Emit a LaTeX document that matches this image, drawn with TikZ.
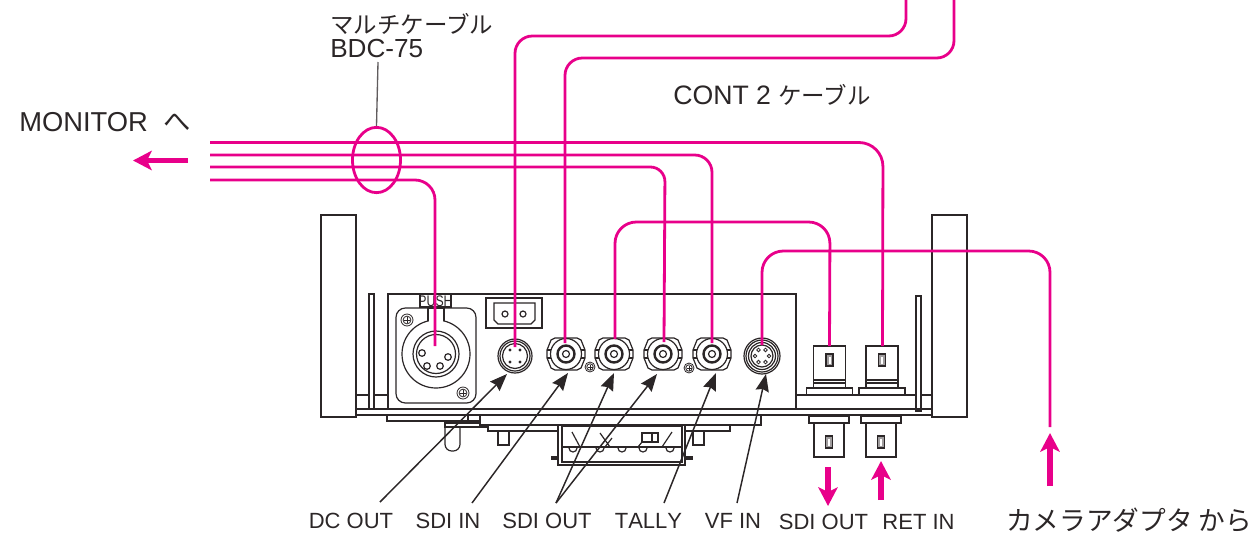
\documentclass[tikz,border=0pt]{standalone}
\usepackage{fontspec}
\setmainfont{Liberation Sans}
\newfontfamily\jpfont{Noto Sans CJK JP}
\usetikzlibrary{arrows.meta,shapes.geometric}
\definecolor{wirepink}{HTML}{E8008A}
\definecolor{ink}{HTML}{2B2627}
\tikzset{
  x=0.75pt,y=-0.75pt,
  part/.style={draw=ink,line width=0.9pt,fill=white},
  thin part/.style={draw=ink,line width=0.6pt,fill=white},
  partline/.style={draw=ink,line width=0.9pt},
  wire/.style={draw=wirepink,line width=2.1pt,rounded corners=13pt},
  bigarrow/.style={draw=wirepink,line width=4pt,-{Stealth[length=14pt,width=14.5pt,inset=3.5pt]}},
  pointer/.style={draw=ink,line width=1.1pt,-{Stealth[length=13pt,width=10pt,inset=1.5pt]}},
  leader/.style={draw=ink!75,line width=1pt},
  labeltext/.style={font=\fontsize{16.5pt}{18pt}\selectfont,text=ink,inner sep=0pt,anchor=center},
  bigtext/.style={font=\fontsize{20pt}{22pt}\selectfont,text=ink,inner sep=0pt,anchor=west},
}
\newcommand{\smalljp}{\jpfont\fontsize{17.6pt}{20pt}\selectfont}
\newcommand{\screw}[3]{%
  \draw[thin part] (#1,#2) circle[radius=#3];
  \draw[thin part] (#1,#2) circle[radius=#3*0.65];
  \draw[partline,line width=0.6pt] (#1-#3*0.5,#2) -- (#1+#3*0.5,#2) (#1,#2-#3*0.5) -- (#1,#2+#3*0.5);
}
\newcommand{\bncsock}[2]{%
  \draw[part] (#1-19,#2-4) -- (#1-15,#2-14) -- (#1-11,#2-16) -- (#1+11,#2-16) -- (#1+15,#2-14) -- (#1+19,#2-4)
     -- (#1+19,#2+4) -- (#1+15,#2+14) -- (#1+11,#2+16) -- (#1-11,#2+16) -- (#1-15,#2+14) -- (#1-19,#2+4) -- cycle;
  \draw[partline] (#1-19,#2-4) -- (#1-15,#2-4) (#1-19,#2+4) -- (#1-15,#2+4) (#1+19,#2-4) -- (#1+15,#2-4) (#1+19,#2+4) -- (#1+15,#2+4);
  \draw[part] (#1,#2) circle[radius=15.5];
  \draw[part,line width=1.8pt] (#1,#2) circle[radius=8.5];
  \draw[partline] (#1,#2) circle[radius=3.5];
}
\newcommand{\bnctop}[2]{%
  \draw[part] (#1-16,#2) rectangle (#1+16,#2+34);
  \draw[partline] (#1-16,#2+34) -- (#1+16,#2+34) (#1-16,#2+37) -- (#1+16,#2+37);
  \draw[part] (#1-23,#2+42) rectangle (#1+23,#2+49);
  \draw[partline] (#1-16,#2+34) -- (#1-16,#2+42) (#1+16,#2+34) -- (#1+16,#2+42);
  \draw[part,fill=ink!45] (#1-3.5,#2+8) rectangle (#1+3.5,#2+20);
  \fill[white] (#1-1,#2+10.5) rectangle (#1+1,#2+17.5);
}
\newcommand{\bncbot}[2]{%
  \draw[part] (#1-20,#2) rectangle (#1+20,#2+7);
  \draw[part] (#1-15,#2+7) rectangle (#1+15,#2+41);
  \draw[part,fill=ink!45] (#1-3.5,#2+20) rectangle (#1+3.5,#2+32);
  \fill[white] (#1-1,#2+22.5) rectangle (#1+1,#2+29.5);
}
\begin{document}
\begin{tikzpicture}
\useasboundingbox (0,0) rectangle (1256,536);
% --- chassis ---
\draw[part] (321,215) rectangle (356,417);
\draw[part] (932,215) rectangle (967,417);
\draw[partline] (356,395) -- (388,395) (796,395) -- (932,395);
\draw[part] (369,294) rectangle (374,409);
\draw[part] (916,296) rectangle (921,411);
\draw[part] (388,294) rectangle (796,409);
\draw[partline] (356,409) -- (932,409) (356,415) -- (932,415);
\draw[part,rounded corners=5pt] (445,421) -- (445,451) -- (460,451) -- (460,421) -- cycle;
\draw[part] (387,415) rectangle (468,421);
\draw[part] (445,423) rectangle (488,427);
\draw[part] (468,415) rectangle (480,421);
\draw[part] (498,431) rectangle (509,445);
\draw[part] (693,431) rectangle (704,445);
\draw[part] (480,415) rectangle (761,425);
\draw[part] (488,425) rectangle (730,431);
% underside box
\draw[part] (552,457) rectangle (692,459);
\draw[part] (558,425) rectangle (685,465);
\draw[part] (562,425) rectangle (682,462);
\draw[partline,line width=1.3pt] (562,426) -- (682,426);
\draw[partline] (562,447) -- (682,447);
\draw[partline] (572,432) -- (580,447) (600,433) -- (610,447) (612,438) -- (605,447);
\draw[partline] (638,447) -- (642,442) (662,447) -- (672,432);
\draw[part] (642,433) rectangle (658,442);
\draw[partline] (652,433) -- (652,442);
\foreach \hx in {573,600,622,643,670} {\draw[partline] (\hx-4,448) arc[start angle=180,end angle=0,radius=4];}
% --- XLR ---
\draw[part,rounded corners=7pt] (396,308) rectangle (476,403);
\draw[part] (428,308) rectangle (444,324);
\draw[part] (420,294) -- (451,294) -- (451,307) -- (420,307) -- cycle;
\node[inner sep=0pt,font=\fontsize{11.5pt}{12pt}\selectfont,text=ink] (pushlabel) at (435.5,301.5) {\scalebox{0.8}[1]{PUSH}};
\draw[part] (436,354) circle[radius=34];
\draw[partline] (436,354) circle[radius=23];
\draw[part] (436,354) circle[radius=19.5];
\fill[white] (429,319) rectangle (443,322);
\draw[partline] (428,308) -- (428,321) (444,308) -- (444,321);
\foreach \px/\py in {422/353,448/357,427/366,440/366} {\draw[part] (\px,\py) circle[radius=3.3];}
\screw{407}{320}{6}
\screw{463}{393}{6}
% --- power socket ---
\draw[part] (486,298) rectangle (542,328);
\draw[part] (494,303) -- (535,303) -- (535,320) -- (531,324) -- (498,324) -- (494,320) -- cycle;
\draw[part] (505,314) circle[radius=3];
\draw[part] (523,314) circle[radius=3];
% --- DC OUT socket ---
\draw[part] (515,356) circle[radius=17];
\draw[partline] (515,356) circle[radius=15];
\draw[partline] (515,356) circle[radius=12.5];
\foreach \dx/\dy in {-5/-6,5/-6,-5/6,5/6} {\fill[ink] (515+\dx,356+\dy) circle[radius=1.7];}
% --- BNC sockets ---
\bncsock{566}{354}
\bncsock{614}{354}
\bncsock{663}{354}
\bncsock{712}{354}
\screw{590}{367}{5}
\screw{689}{368}{5}
% --- VF IN socket ---
\draw[part] (762,356) circle[radius=18];
\draw[partline] (762,356) circle[radius=16];
\draw[partline] (762,356) circle[radius=13.5];
\draw[partline] (762,356) circle[radius=11];
\foreach \a in {0,60,120,180,240,300} {\draw[part,line width=0.6pt] (762,356) ++(\a:7) circle[radius=1.8];}
% --- right BNC ---
\bnctop{829.5}{346}
\bnctop{882}{346}
\bncbot{829}{416}
\bncbot{881}{416}
% --- wires ---
\coordinate (c1top) at (906,0);
\coordinate (c2top) at (954,0);
\coordinate (dcend) at (515,347);
\coordinate (sdi1end) at (565,343);
\coordinate (sdi2end) at (615,339);
\coordinate (tallyend) at (664,342);
\coordinate (vfend) at (712,343);
\coordinate (xlrend) at (435,346);
\coordinate (vfinend) at (762,345);
\coordinate (bnc1end) at (829.5,346);
\coordinate (bnc2end) at (882.5,346);
\coordinate (camfree) at (1050,427);
\coordinate (m1) at (210,142.5);
\coordinate (m2) at (210,155);
\coordinate (m3) at (210,167);
\coordinate (m4) at (210,180);
\draw[wire] (c1top) -- (906,36) -- (515,36) -- (dcend);
\draw[wire] (c2top) -- (954,58) -- (565,58) -- (sdi1end);
\draw[wire,rounded corners=18pt] (m1) -- (883,142.5) -- (bnc2end);
\draw[wire,rounded corners=13pt] (m2) -- (712,155) -- (vfend);
\draw[wire,rounded corners=11pt] (m3) -- (665,167) -- (tallyend);
\draw[wire,rounded corners=15pt] (m4) -- (435,180) -- (xlrend);
\draw[wire,rounded corners=16pt] (sdi2end) -- (615,222) -- (830,222) -- (bnc1end);
\draw[wire,rounded corners=16pt] (vfinend) -- (762,251) -- (1050,251) -- (camfree);
% --- cable ring and leader ---
\node[draw=wirepink,line width=2.1pt,ellipse,minimum width=36pt,minimum height=49pt,inner sep=0pt] (ring) at (376.5,160) {};
\coordinate (leadtop) at (378,62);
\draw[leader] (leadtop) -- (ring.north);
% --- pink arrows ---
\coordinate (a1s) at (188,160.5); \coordinate (a1e) at (133,160.5);
\coordinate (a2s) at (828,467); \coordinate (a2e) at (828,506);
\coordinate (a3s) at (881,500); \coordinate (a3e) at (881,461);
\coordinate (a4s) at (1050,486); \coordinate (a4e) at (1050,433);
\draw[bigarrow] (a1s) -- (a1e);
\draw[bigarrow] (a2s) -- (a2e);
\draw[bigarrow] (a3s) -- (a3e);
\draw[bigarrow] (a4s) -- (a4e);
% --- labels ---
\node[labeltext] (ldc) at (351,521) {DC OUT};
\node[labeltext] (lsdiin) at (448,521) {SDI IN};
\node[labeltext] (lsdiout) at (547,521) {SDI OUT};
\node[labeltext] (ltally) at (648.5,521) {\addfontfeatures{Kerning=Off}TALLY};
\node[labeltext] (lvfin) at (733,521) {VF IN};
\node[labeltext] (lsdiout2) at (823.5,522) {SDI OUT};
\node[labeltext] (lretin) at (918.5,522) {RET IN};
\node[bigtext] (lcam) at (1006,520) {\jpfont カメラアダプタ から};
\node[bigtext] (lcont) at (673,95) {CONT 2 {\smalljp ケーブル}};
\node[bigtext] (lmon) at (19,122) {\fontsize{20.5pt}{22pt}\selectfont MONITOR\hspace{6pt} {\jpfont へ}};
\node[bigtext] (lmulti) at (330,24) {\smalljp マルチケーブル};
\node[bigtext,font=\fontsize{19.6pt}{22pt}\selectfont] (lbdc) at (330,49) {BDC-75};
% --- pointers ---
\coordinate (pdc) at (507,374); \coordinate (psdi) at (568,373); \coordinate (po1) at (614,373);
\coordinate (po2) at (657,374); \coordinate (pta) at (716,373); \coordinate (pvf) at (766,374);
\coordinate (sdc) at (380,502); \coordinate (ssdi) at (472,503); \coordinate (so) at (556,503);
\coordinate (sta) at (664,503); \coordinate (svf) at (737,503);
\draw[pointer] (sdc) -- (pdc);
\draw[pointer] (ssdi) -- (psdi);
\draw[pointer] (so) -- (po1);
\draw[pointer] (so) -- (po2);
\draw[pointer] (sta) -- (pta);
\draw[pointer] (svf) -- (pvf);
\end{tikzpicture}
\end{document}
